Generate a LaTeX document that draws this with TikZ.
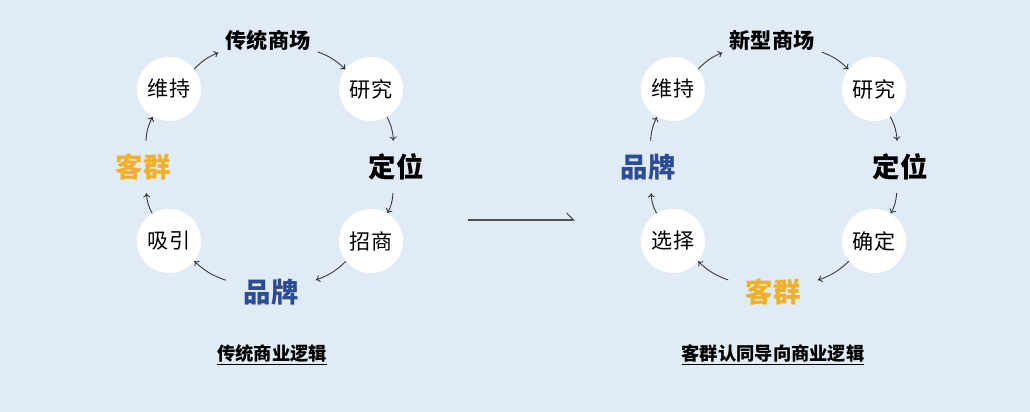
\documentclass[tikz,border=0pt]{standalone}
\usepackage{fontspec}
\newfontfamily\cjk{Noto Sans CJK SC}
\usetikzlibrary{calc, shapes.geometric, positioning, arrows.meta}
\definecolor{bgblue}{HTML}{E0EBF5}
\definecolor{kqorange}{HTML}{F0B028}
\definecolor{ppblue}{HTML}{2C4C96}
\definecolor{arrgray}{HTML}{303030}

\tikzset{
  stage/.style={circle, fill=white, minimum size=1.6cm, inner sep=0pt, font=\cjk\fontsize{15}{15}\selectfont},
  keyword/.style={ellipse, minimum width=2.5cm, minimum height=1.3cm, inner sep=0pt, font=\cjk\bfseries\fontsize{19.5}{19.5}\selectfont},
  mall/.style={inner xsep=0.18cm, inner ysep=0.1cm, font=\cjk\bfseries\fontsize{15}{15}\selectfont},
  caption/.style={inner sep=0pt, font=\cjk\bfseries\fontsize{13}{13}\selectfont},
  flow/.style={-{To[length=3pt, width=5pt]}, arrgray, line width=0.6pt, bend left=12},
}

\begin{document}
\begin{tikzpicture}[x=0.025cm, y=-0.025cm]
\fill[bgblue] (0,0) rectangle (1030,412);

% traditional mall
\node[mall] (ltop) at (268,40) {传统商场};
\node[stage] (lyj) at (371,89) {研究};
\node[keyword] (ldw) at (396,167) {定位};
\node[stage] (lzs) at (371,241) {招商};
\node[keyword, text=ppblue] (lpp) at (271,292) {品牌};
\node[stage] (lxy) at (169,241) {吸引};
\node[keyword, text=kqorange] (lkq) at (143,167) {客群};
\node[stage] (lwc) at (169,89) {维持};
\draw[flow] (lwc) to (ltop);
\draw[flow] (ltop) to (lyj);
\draw[flow] (lyj) to (ldw);
\draw[flow] (ldw) to (lzs);
\draw[flow] (lzs) to (lpp);
\draw[flow] (lpp) to (lxy);
\draw[flow] (lxy) to (lkq);
\draw[flow] (lkq) to (lwc);
\node[caption] (lcap) at (272,355) {\underline{传统商业逻辑}};

% new mall
\node[mall] (rtop) at (772,40) {新型商场};
\node[stage] (ryj) at (874,89) {研究};
\node[keyword] (rdw) at (900,167) {定位};
\node[stage] (rqd) at (874,241) {确定};
\node[keyword, text=kqorange] (rkq) at (773,292) {客群};
\node[stage] (rxz) at (673,241) {选择};
\node[keyword, text=ppblue] (rpp) at (648,167) {品牌};
\node[stage] (rwc) at (673,89) {维持};
\draw[flow] (rwc) to (rtop);
\draw[flow] (rtop) to (ryj);
\draw[flow] (ryj) to (rdw);
\draw[flow] (rdw) to (rqd);
\draw[flow] (rqd) to (rkq);
\draw[flow] (rkq) to (rxz);
\draw[flow] (rxz) to (rpp);
\draw[flow] (rpp) to (rwc);
\node[caption] (rcap) at (773,355) {\underline{客群认同导向商业逻辑}};

% middle arrow
\coordinate (from) at (468,220);
\coordinate (to) at (575,220);
\draw[-{Straight Barb[harpoon, length=5pt, width=10pt]}, arrgray!85, line width=0.8pt] (from) -- (to);
\end{tikzpicture}
\end{document}
